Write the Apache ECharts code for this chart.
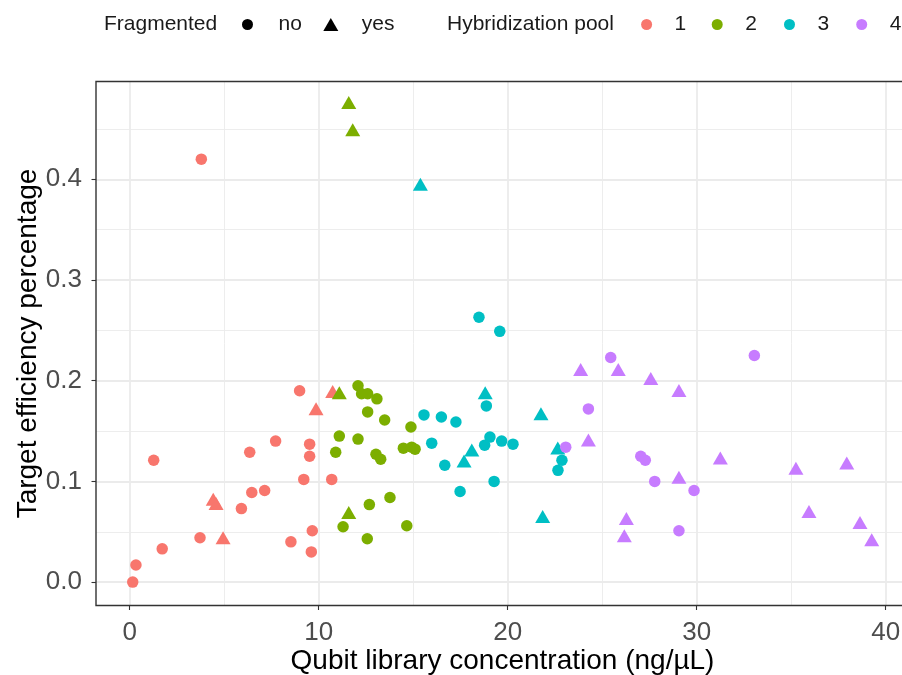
<!DOCTYPE html>
<html><head><meta charset="utf-8">
<script src="https://cdn.jsdelivr.net/npm/echarts@6/dist/echarts.min.js"></script>
<style>html,body{margin:0;padding:0;background:#fff}#c{width:902px;height:675px}</style>
</head><body><div id="c"></div>
<script>
// ---- data (x: Qubit library concentration ng/µL, y: target efficiency) ----
const pool1_no = [[3.79,0.420],[8.99,0.190],[1.27,0.121],[6.35,0.129],[7.72,0.140],[9.52,0.137],[9.52,0.125],[9.21,0.102],[10.69,0.102],[6.46,0.089],[7.14,0.091],[5.91,0.073],[9.66,0.051],[3.72,0.044],[8.53,0.040],[1.72,0.033],[9.61,0.030],[0.33,0.017],[0.16,0.000]];
const pool1_yes = [[10.74,0.187],[9.86,0.170],[4.42,0.080],[4.57,0.076],[4.94,0.042]];
const pool2_no = [[12.08,0.195],[12.27,0.187],[12.59,0.187],[13.08,0.182],[12.59,0.169],[13.49,0.161],[14.88,0.154],[11.09,0.145],[12.08,0.142],[10.90,0.129],[13.03,0.127],[13.28,0.122],[14.48,0.133],[14.92,0.134],[15.10,0.132],[12.68,0.077],[13.77,0.084],[11.29,0.055],[14.66,0.056],[12.57,0.043]];
const pool2_yes = [[11.59,0.474],[11.80,0.447],[11.09,0.186],[11.59,0.067]];
const pool3_no = [[18.48,0.263],[19.58,0.249],[18.87,0.175],[15.57,0.166],[16.49,0.164],[17.26,0.159],[15.98,0.138],[19.06,0.144],[18.78,0.136],[19.68,0.140],[20.28,0.137],[16.67,0.116],[19.28,0.100],[17.48,0.090],[22.87,0.121],[22.66,0.111]];
const pool3_yes = [[15.38,0.393],[18.81,0.186],[21.76,0.165],[18.10,0.129],[17.69,0.118],[22.65,0.131],[21.85,0.063]];
const pool4_no = [[25.45,0.223],[33.05,0.225],[24.27,0.172],[23.07,0.134],[27.04,0.125],[27.28,0.121],[27.78,0.100],[29.86,0.091],[29.06,0.051]];
const pool4_yes = [[23.86,0.209],[25.85,0.209],[27.57,0.200],[29.06,0.188],[24.27,0.139],[29.06,0.102],[26.28,0.061],[26.17,0.044],[31.25,0.121],[35.25,0.111],[37.94,0.116],[35.94,0.068],[38.64,0.057],[39.26,0.040]];

const poolNames = ['1','2','3','4'];
const fragNames = ['no','yes'];
const xTicks = [0,10,20,30,40];
const yTicks = [0,0.1,0.2,0.3,0.4];
const xTitle = 'Qubit library concentration (ng/µL)';
const yTitle = 'Target efficiency percentage';
const fragTitle = 'Fragmented';
const poolTitle = 'Hybridization pool';

// ---- styling / layout ----
const poolColors = ['#F8766D','#7CAE00','#00BFC4','#C77CFF'];
const FONT = 'Liberation Sans, Arial, sans-serif';
const L = {x0:129.7, xpu:18.9, y0:582.1, ypu:1007, pl:96, pr:909, pt:81.5, pb:605.5};
const xMin = (L.pl - L.x0)/L.xpu, xMax = (L.pr - L.x0)/L.xpu;
const yMin = (L.y0 - L.pb)/L.ypu, yMax = (L.y0 - L.pt)/L.ypu;
const xLo = xTicks[0], xHi = xTicks[xTicks.length-1];
const gridColor = '#EBEBEB';
const tickLabel = {color:'#4D4D4D', fontSize:26, fontFamily:FONT};
const legendText = {color:'#1A1A1A', fontSize:21, fontFamily:FONT};

const noData = {no:[pool1_no,pool2_no,pool3_no,pool4_no], yes:[pool1_yes,pool2_yes,pool3_yes,pool4_yes]};
const circleSize = 11.5, triW = 15, triH = 13;
const triIcon = 'path://M0,-1L0.866,0.5L-0.866,0.5Z';

const series = [];
poolNames.forEach((p,i)=>{
  series.push({type:'scatter', name:p, xAxisIndex:0, yAxisIndex:0, data:noData.no[i],
    symbol:'circle', symbolSize:circleSize, itemStyle:{color:poolColors[i], opacity:1}, z:3, silent:true});
  series.push({type:'scatter', name:p, xAxisIndex:0, yAxisIndex:0, data:noData.yes[i],
    symbol:'triangle', symbolSize:[triW,triH], symbolOffset:[0,-triH/6], itemStyle:{color:poolColors[i], opacity:1}, z:3, silent:true});
});
// legend-only series for shape key
series.push({type:'scatter', name:fragNames[0], xAxisIndex:0, yAxisIndex:0, data:[], symbol:'circle', itemStyle:{color:'#000'}});
series.push({type:'scatter', name:fragNames[1], xAxisIndex:0, yAxisIndex:0, data:[], symbol:'triangle', itemStyle:{color:'#000'}});

// legend key centers (px) ; legend 'left' aligns the visible icon's left edge
const legTop = 14;
const keyR = 5.5;
const legends = [
  {data:[{name:fragNames[0], icon:'circle'}], left:247.5-keyR, itemWidth:52, itemHeight:11},
  {data:[{name:fragNames[1], icon:triIcon}], left:330.8-7.5, itemWidth:52, itemHeight:13},
].concat(poolNames.map((p,i)=>({data:[{name:p, icon:'circle'}], left:[646.6,717.2,789.5,861.7][i]-keyR, itemWidth:46, itemHeight:11})))
 .map(l=>Object.assign({top:legTop, padding:0, selectedMode:false, symbolKeepAspect:true, textStyle:legendText, itemStyle:{opacity:1}}, l));

const option = {
  animation:false,
  backgroundColor:'#fff',
  title:[
    {text:fragTitle, left:104, top:legTop, padding:0, textStyle:Object.assign({fontWeight:'normal'}, legendText)},
    {text:poolTitle, left:447, top:legTop, padding:0, textStyle:Object.assign({fontWeight:'normal'}, legendText)}
  ],
  legend:legends,
  grid:[
    {left:L.pl, top:L.pt, width:L.pr-L.pl, height:L.pb-L.pt, show:true, borderColor:'#333333', borderWidth:1.4, backgroundColor:'transparent', z:4, outerBoundsMode:'none', containLabel:false},
    {left:L.x0 + xLo*L.xpu, top:L.pt, width:(xHi-xLo)*L.xpu, height:L.pb-L.pt, outerBoundsMode:'none', containLabel:false},
    {left:L.pl, top:L.y0 - 0.5*L.ypu, width:L.pr-L.pl, height:0.5*L.ypu, outerBoundsMode:'none', containLabel:false}
  ],
  xAxis:[
    {gridIndex:0, type:'value', min:xMin, max:xMax, axisLine:{show:false}, axisTick:{show:false}, axisLabel:{show:false}, splitLine:{show:false},
     name:xTitle, nameLocation:'middle', nameGap:42, nameTextStyle:{color:'#000', fontSize:28, fontFamily:FONT}},
    {gridIndex:1, type:'value', min:xLo, max:xHi, interval:10,
     axisLine:{show:false}, axisTick:{show:true, length:4.5, lineStyle:{color:'#333333', width:1.1}},
     axisLabel:Object.assign({margin:14, formatter:v=>String(v)}, tickLabel),
     splitLine:{show:true, lineStyle:{color:gridColor, width:1.8}},
     minorTick:{show:false, splitNumber:2}, minorSplitLine:{show:true, lineStyle:{color:gridColor, width:0.9}}},
    {gridIndex:2, type:'value', min:0, max:1, show:false}
  ],
  yAxis:[
    {gridIndex:0, type:'value', min:yMin, max:yMax, axisLine:{show:false}, axisTick:{show:false}, axisLabel:{show:false}, splitLine:{show:false},
     name:yTitle, nameLocation:'middle', nameGap:54, nameTextStyle:{color:'#000', fontSize:28, fontFamily:FONT}},
    {gridIndex:1, type:'value', min:0, max:1, show:false},
    {gridIndex:2, type:'value', min:0, max:0.5, interval:0.1,
     axisLine:{show:false},
     axisTick:{show:true, length:4.5, lineStyle:{color:'#333333', width:1.1}, customValues:yTicks},
     axisLabel:Object.assign({margin:14, customValues:yTicks, formatter:v=>v.toFixed(1)}, tickLabel),
     splitLine:{show:true, lineStyle:{color:[gridColor,gridColor,gridColor,gridColor,gridColor,'rgba(0,0,0,0)'], width:1.8}},
     minorTick:{show:false, splitNumber:2}, minorSplitLine:{show:true, lineStyle:{color:gridColor, width:0.9}}}
  ],
  series:series
};
const chart = echarts.init(document.getElementById('c'), null, {renderer:'canvas'});
chart.setOption(option);
</script></body></html>
